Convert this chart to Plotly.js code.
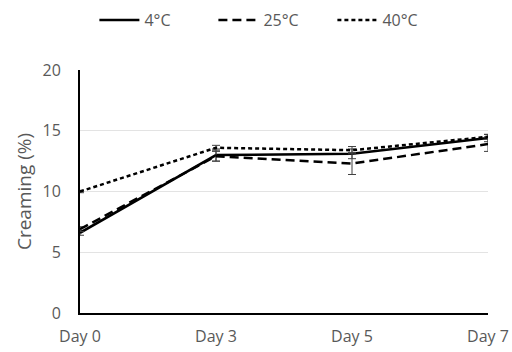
<!DOCTYPE html>
<html>
<head>
<meta charset="utf-8">
<script src="https://cdn.plot.ly/plotly-3.0.1.min.js"></script>
<style>html,body{margin:0;padding:0;background:#fff;}#chart{width:512px;height:352px;}</style>
</head>
<body>
<div id="chart"></div>
<script>
var days = ["Day 0", "Day 3", "Day 5", "Day 7"];
var seriesNames = ["4°C", "25°C", "40°C"];
var values4 = [6.6, 13.0, 13.1, 14.4];
var values25 = [6.9, 12.9, 12.3, 13.9];
var values40 = [10.0, 13.6, 13.4, 14.5];
var err4 = [0.2, 0.5, 0.4, 0.3];
var err25 = [0.2, 0.4, 0.9, 0.6];
var err40 = [0.1, 0.2, 0.3, 0.2];
var yTicks = [0, 5, 10, 15, 20];

var dashes = ["solid", "9px,5px", "4px,3px"];
var allVals = [values4, values25, values40];
var allErr = [err4, err25, err40];

var traces = seriesNames.map(function (n, i) {
  return {
    x: days, y: allVals[i], name: n, type: "scatter", mode: "lines",
    line: {color: "#000000", width: 2.5, dash: dashes[i]},
    error_y: {type: "data", array: allErr[i], visible: true, color: "#404040", thickness: 1, width: 4},
    cliponaxis: false
  };
});

var font = {family: "Open Sans, sans-serif", size: 16, color: "#595959"};
var layout = {
  width: 512, height: 352,
  margin: {l: 80, r: 24, t: 70, b: 39, autoexpand: false},
  paper_bgcolor: "#ffffff", plot_bgcolor: "#ffffff",
  font: font,
  showlegend: true,
  legend: {orientation: "h", x: 0.533, xanchor: "center", xref: "container", y: 0.943, yanchor: "middle", yref: "container",
           font: {family: "Open Sans, sans-serif", size: 16, color: "#595959"}, entrywidth: 64, itemwidth: 40, tracegroupgap: 0},
  xaxis: {type: "category", range: [0, 3], showgrid: false, zeroline: false, automargin: false,
          showline: true, linecolor: "#000000", linewidth: 2, ticks: "", tickfont: font, ticklabelstandoff: 8},
  yaxis: {range: [0, 20], tickvals: yTicks, showgrid: true, gridcolor: "#e3e3e3", gridwidth: 1, automargin: false,
          zeroline: false, showline: true, linecolor: "#000000", linewidth: 2, ticks: "",
          tickfont: font, ticklabelstandoff: 14,
          title: {text: "Creaming (%)", font: {family: "Open Sans, sans-serif", size: 19, color: "#595959"}, standoff: 6}}
};
Plotly.newPlot("chart", traces, layout, {displayModeBar: false, staticPlot: true});
</script>
</body>
</html>
